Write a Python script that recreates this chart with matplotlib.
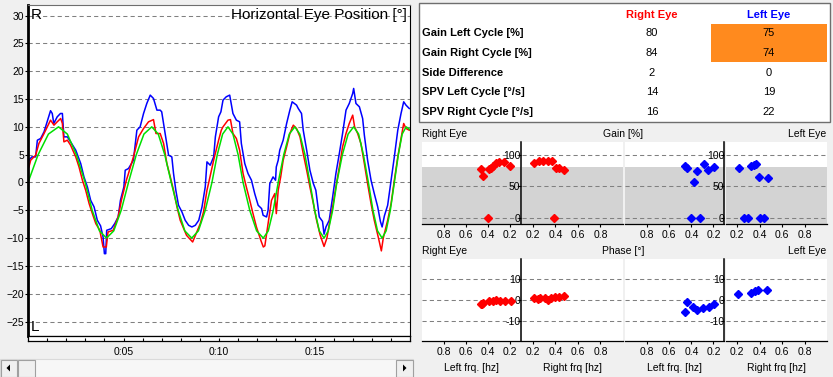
import matplotlib
matplotlib.use("Agg")

# import the matplotlib 2D plots and the patches for the table / scrollbar
import matplotlib.pyplot as plt
from matplotlib.patches import Rectangle, Polygon

# global constants
FIG_W: int = 833
FIG_H: int = 377
OUT_PNG_NAME: str = "out.png"

plt.rcParams["font.family"] = ["Liberation Sans", "DejaVu Sans"]

# ---------------------------------------------------------------------------
# horizontal eye position trace ( time in seconds, position in degrees )
# ---------------------------------------------------------------------------
green_t = [0, 0.53, 1.07, 1.6, 2.06, 2.53, 2.99, 3.36, 3.74, 4.11, 4.49, 4.88, 5.26,
           5.67, 6.07, 6.48, 6.82, 7.16, 7.5, 7.86, 8.21, 8.57, 8.92, 9.28, 9.63,
           9.91, 10.19, 10.47, 10.73, 11.0, 11.26, 11.61, 11.97, 12.32, 12.58, 12.84, 13.1,
           13.39, 13.68, 13.97, 14.23, 14.5, 14.76, 15.01, 15.25, 15.5, 15.72, 15.95, 16.17,
           16.46, 16.76, 17.05, 17.31, 17.56, 17.82, 18.06, 18.3, 18.54, 18.75, 18.97, 19.18,
           19.39, 19.59, 19.8, 20.0]
green_v = [0, 5, 8.7, 10, 8.7, 5, 0, -5, -8.7, -10, -8.7, -5, 0,
           5, 8.7, 10, 8.7, 5, 0, -5, -8.7, -10, -8.7, -5, 0,
           5, 8.7, 10, 8.7, 5, 0, -5, -8.7, -10, -8.7, -5, 0,
           5, 8.7, 10, 8.7, 5, 0, -5, -8.7, -10, -8.7, -5, 0,
           5, 8.7, 10, 8.7, 5, 0, -5, -8.7, -10, -8.7, -5, 0,
           5, 8.7, 10, 9.5]

red_t = [0.0, 0.05, 0.14, 0.4, 0.57, 0.84, 1.01, 1.18, 1.36, 1.53, 1.71, 1.8, 1.88, 2.06,
         2.23, 2.5, 2.67, 2.85, 3.02, 3.2, 3.37, 3.55, 3.76, 3.93, 4.1, 4.19, 4.46, 4.72,
         4.89, 5.15, 5.26, 5.52, 5.79, 6.05, 6.31, 6.57, 6.7, 6.92, 7.1, 7.27, 7.45, 7.62,
         7.8, 7.97, 8.3, 8.62, 9.02, 9.19, 9.37, 9.49, 9.72, 9.98, 10.12, 10.21, 10.47, 10.6,
         10.73, 10.91, 11.08, 11.26, 11.43, 11.61, 11.78, 11.96, 12.2, 12.32, 12.4, 12.57,
         12.75, 12.92, 13.0, 13.1, 13.23, 13.36, 13.54, 13.71, 13.89, 14.06, 14.24, 14.41,
         14.59, 14.76, 14.94, 15.11, 15.3, 15.5, 15.65, 15.8, 15.95, 16.12, 16.3, 16.47,
         16.65, 16.82, 17.0, 17.1, 17.26, 17.43, 17.61, 17.78, 17.96, 18.13, 18.35, 18.5,
         18.6, 18.83, 19.01, 19.18, 19.36, 19.53, 19.67, 19.79, 19.96]
red_v = [2.5, 2.8, 4.0, 4.9, 7.0, 8.8, 10.0, 11.2, 10.3, 10.9, 11.5, 10.6, 7.3, 7.6,
         6.7, 4.6, 2.8, 0.4, -1.4, -3.8, -5.6, -7.4, -8.6, -11.6, -11.6, -8.9, -8.6, -6.2,
         -3.2, 0.4, 1.6, 4.6, 8.2, 9.7, 10.9, 11.3, 8.8, 8.8, 7.0, 3.4, 1.0, -1.4,
         -4.4, -6.8, -9.5, -10.7, -7.4, -5.3, -1.4, 0.4, 4.0, 7.6, 9.4, 10.0, 11.2, 11.3,
         8.8, 7.9, 5.8, 1.6, -0.8, -3.2, -5.6, -8.0, -10.5, -11.6, -11.4, -7.4,
         -3.2, -2.0, -5.6, -1.4, 1.0, 4.0, 6.4, 8.8, 10.3, 9.7, 8.2, 5.2,
         2.2, -0.8, -3.8, -6.8, -9.5, -11.5, -10.0, -7.0, -4.4, -0.8, 2.8, 6.4,
         8.8, 10.6, 12.1, 10.0, 8.8, 7.0, 3.4, -0.2, -3.8, -6.8, -10.0, -12.3,
         -10.0, -6.8, -3.8, 0.4, 4.6, 7.9, 10.6, 9.7, 9.4]

blue_t = [0.0, 0.05, 0.2, 0.4, 0.49, 0.66, 0.84, 1.0, 1.18, 1.27, 1.35, 1.53, 1.7, 1.8,
          1.88, 2.06, 2.23, 2.5, 2.76, 2.93, 3.11, 3.28, 3.46, 3.63, 3.8, 3.93, 4.0, 4.07,
          4.12, 4.36, 4.54, 4.72, 4.84, 5.02, 5.09, 5.26, 5.52, 5.7, 5.87, 6.05, 6.22, 6.4,
          6.57, 6.75, 6.92, 7.0, 7.18, 7.36, 7.53, 7.62, 7.74, 7.88, 8.06, 8.23, 8.41, 8.58,
          8.76, 8.94, 9.11, 9.28, 9.37, 9.54, 9.72, 9.81, 9.98, 10.1, 10.21, 10.38, 10.56,
          10.73, 10.91, 11.08, 11.17, 11.35, 11.52, 11.7, 11.87, 12.05, 12.23, 12.31, 12.49,
          12.57, 12.66, 12.83, 12.96, 13.0, 13.1, 13.18, 13.36, 13.54, 13.71, 13.83, 14.06,
          14.15, 14.32, 14.41, 14.59, 14.76, 14.94, 15.07, 15.25, 15.42, 15.5, 15.6, 15.77,
          15.95, 16.12, 16.3, 16.47, 16.65, 16.82, 17.0, 17.05, 17.17, 17.35, 17.52, 17.61,
          17.78, 17.96, 18.13, 18.31, 18.45, 18.54, 18.66, 18.83, 19.01, 19.18, 19.36, 19.53,
          19.67, 19.79, 19.96]
blue_v = [3.4, 4.0, 4.6, 4.6, 7.6, 7.9, 9.1, 10.9, 12.9, 12.4, 10.6, 11.8, 12.4, 12.4,
          8.2, 8.2, 7.3, 5.8, 3.4, 1.0, -0.8, -3.2, -4.4, -6.8, -7.8, -9.8, -12.8, -12.8,
          -8.6, -8.3, -7.4, -6.2, -3.2, -0.8, 2.2, 2.5, 4.0, 9.4, 10.0, 12.4, 14.2, 15.7,
          15.1, 13.0, 13.0, 12.7, 8.8, 4.9, 4.6, 1.6, -1.4, -4.1, -5.3, -6.8, -7.7, -8.0,
          -7.7, -6.8, -4.4, -0.8, 3.7, 3.1, 4.6, 8.2, 11.8, 12.7, 14.8, 15.4, 15.7,
          12.4, 11.2, 10.9, 7.0, 3.4, 1.6, 0.4, -2.0, -4.1, -4.7, -5.9, -6.2,
          -5.0, -0.2, 1.0, 0.4, 2.8, 4.0, 5.8, 7.6, 10.6, 13.0, 14.5, 13.9,
          13.3, 12.4, 9.4, 5.8, 2.2, -0.2, -1.4, -6.2, -7.0, -9.3, -8.0, -6.8,
          -2.6, 1.6, 5.2, 8.8, 13.0, 14.2, 16.0, 16.9, 14.2, 13.6, 11.5, 8.5,
          4.0, 0.4, -2.0, -4.4, -7.0, -8.0, -6.0, -4.1, 0.4, 4.6, 9.4, 12.4,
          14.5, 13.9, 13.3]

time_ticks = [5, 10, 15]
time_tick_labels = ["0:05", "0:10", "0:15"]

# ---------------------------------------------------------------------------
# result table
# ---------------------------------------------------------------------------
row_labels = ["Gain Left Cycle [%]", "Gain Right Cycle [%]", "Side Difference",
              "SPV Left Cycle [°/s]", "SPV Right Cycle [°/s]"]
right_eye_values = [80, 84, 2, 14, 16]
left_eye_values = [75, 74, 0, 19, 22]

# ---------------------------------------------------------------------------
# gain / phase per frequency ( frequency in hz )
# ---------------------------------------------------------------------------
gain_re_left_frq = [0.461, 0.446, 0.40, 0.391, 0.369, 0.347, 0.323, 0.292, 0.246, 0.194]
gain_re_left_val = [78.0, 67.4, 0.0, 78.0, 79.6, 82.3, 87.6, 88.6, 88.6, 83.3]
gain_re_right_frq = [0.209, 0.253, 0.295, 0.333, 0.368, 0.392, 0.407, 0.436, 0.474]
gain_re_right_val = [88.1, 91.3, 91.3, 91.3, 91.3, 0.0, 79.6, 79.0, 76.4]
gain_le_left_frq = [0.46, 0.436, 0.405, 0.375, 0.351, 0.324, 0.285, 0.245, 0.194]
gain_le_left_val = [83.3, 79.6, 0.0, 56.8, 74.3, 0.0, 86.5, 75.9, 81.7]
gain_le_right_frq = [0.215, 0.259, 0.297, 0.327, 0.348, 0.365, 0.392, 0.407, 0.436, 0.472]
gain_le_right_val = [79.6, 0.0, 0.0, 83.3, 84.9, 86.5, 65.3, 0.0, 0.0, 64.2]
gain_normal_limit = 81

phase_re_left_frq = [0.461, 0.452, 0.44, 0.384, 0.347, 0.323, 0.283, 0.24, 0.19]
phase_re_left_val = [-1.9, -1.6, -1.3, -0.5, -0.3, 0.3, -0.5, -0.5, -0.5]
phase_re_right_frq = [0.209, 0.244, 0.268, 0.304, 0.333, 0.363, 0.40, 0.436, 0.474]
phase_re_right_val = [1.3, 0.5, 1.0, 1.0, 0.3, 1.0, 1.6, 1.6, 1.9]
phase_le_left_frq = [0.46, 0.442, 0.382, 0.351, 0.291, 0.242, 0.194]
phase_le_left_val = [-5.6, -0.8, -3.5, -4.5, -3.7, -3.2, -1.9]
phase_le_right_frq = [0.209, 0.327, 0.357, 0.386, 0.469]
phase_le_right_val = [2.9, 3.5, 4.3, 5.1, 5.1]

frq_ticks = [0.2, 0.4, 0.6, 0.8]

BG = "#F0F0F0"
GRID = dict(color="#808080", linestyle=(0, (4, 3)), linewidth=0.75)


# helper to place an axes using pixel coordinates ( top-left origin )
def px_axes(fig, x0, y0, x1, y1):
    return fig.add_axes([x0 / FIG_W, 1 - y1 / FIG_H, (x1 - x0) / FIG_W, (y1 - y0) / FIG_H])


# the big horizontal eye position chart
def eye_position_chart(fig):
    axes = px_axes(fig, 28, 5, 410, 336)

    axes.plot(blue_t, blue_v, color="#0000FF", linewidth=1.1)
    axes.plot(red_t, red_v, color="#FF0000", linewidth=1.1)
    axes.plot(green_t, green_v, color="#00E000", linewidth=1.1)

    axes.set_xlim(0, 20)
    axes.set_ylim(-27.6, 31.9)
    axes.set_yticks(range(-25, 31, 5))
    axes.set_xticks([])
    axes.yaxis.grid(True, **GRID)
    axes.set_axisbelow(True)
    axes.tick_params(axis="y", labelsize=7.5, length=2, width=0.8, pad=1)

    for name, spine in axes.spines.items():
        spine.set_linewidth(0.8)
        spine.set_color("black")
    axes.spines["left"].set_linewidth(2)
    axes.spines["top"].set_color("#6E6E6E")

    axes.text(0.993, 0.958, "Horizontal Eye Position [°]", transform=axes.transAxes,
              ha="right", va="baseline", fontsize=11)
    axes.text(0.007, 0.958, "R", transform=axes.transAxes, ha="left", va="baseline", fontsize=11)
    axes.text(0.007, 0.016, "L", transform=axes.transAxes, ha="left", va="baseline", fontsize=11)

    # the double line time strip under the chart
    strip = px_axes(fig, 28, 336, 410, 341)
    strip.set_xlim(0, 20)
    strip.set_yticks([])
    strip.set_xticks(time_ticks)
    strip.set_xticklabels(time_tick_labels)
    strip.set_xticks(range(1, 20), minor=True)
    strip.tick_params(axis="x", which="both", direction="in", length=2, width=0.8,
                      labelsize=7.5, pad=4.5)
    for spine in strip.spines.values():
        spine.set_linewidth(0.9)


# one of the small gain / phase scatter panels
def scatter_panel(fig, box, xs, ys, colour, ylim, yticks, inverted, show_y, gray, xlabel=None):
    axes = px_axes(fig, *box)
    if gray:
        axes.axhspan(ylim[0], gain_normal_limit, color="#D3D3D3", zorder=0, linewidth=0)
    axes.plot(xs, ys, linestyle="none", marker="D", markersize=4.2, color=colour, zorder=3)

    axes.set_xlim((1.0, 0.1) if inverted else (0.1, 1.0))
    axes.set_ylim(*ylim)
    axes.set_xticks(frq_ticks)
    axes.set_xticklabels([f"{t:.1f}" for t in frq_ticks])
    axes.set_yticks(yticks)
    axes.yaxis.grid(True, **GRID)
    axes.set_axisbelow(False)
    for line in axes.get_ygridlines():
        line.set_zorder(1)

    axes.tick_params(axis="x", labelsize=7.5, length=2.5, width=0.8, pad=2)
    axes.spines["top"].set_visible(False)
    axes.spines["left"].set_visible(False)
    axes.spines["bottom"].set_linewidth(0.9)

    if show_y:
        axes.tick_params(axis="y", left=False, labelleft=False, right=True, labelright=True,
                         direction="in", length=2, width=0.8, labelsize=7.5, pad=0)
        axes.set_yticklabels([str(t) for t in yticks])
        for label in axes.get_yticklabels():
            label.set_horizontalalignment("right")
        axes.spines["right"].set_linewidth(1.1)
    else:
        axes.tick_params(axis="y", left=False, right=False, labelleft=False)
        axes.spines["right"].set_visible(False)

    if xlabel:
        axes.set_xlabel(xlabel, fontsize=7.5, labelpad=4)
    return axes


def main():
    fig = plt.figure(figsize=(FIG_W / 100, FIG_H / 100), dpi=100, facecolor=BG)

    eye_position_chart(fig)

    # x positions ( in pixels ) of the four panel columns
    cols = [(421.7, 520.5), (521.5, 623), (625, 724.5), (726, 827)]
    gain_rows = (142, 224)
    phase_rows = (259, 341)

    gain_sets = [
        (gain_re_left_frq, gain_re_left_val, "#FF0000", True, True),
        (gain_re_right_frq, gain_re_right_val, "#FF0000", False, False),
        (gain_le_left_frq, gain_le_left_val, "#0000FF", True, True),
        (gain_le_right_frq, gain_le_right_val, "#0000FF", False, False),
    ]
    phase_sets = [
        (phase_re_left_frq, phase_re_left_val, "#FF0000", True, True, "Left frq. [hz]"),
        (phase_re_right_frq, phase_re_right_val, "#FF0000", False, False, "Right frq [hz]"),
        (phase_le_left_frq, phase_le_left_val, "#0000FF", True, True, "Left frq. [hz]"),
        (phase_le_right_frq, phase_le_right_val, "#0000FF", False, False, "Right frq [hz]"),
    ]

    for (x0, x1), (xs, ys, colour, inv, show_y) in zip(cols, gain_sets):
        scatter_panel(fig, (x0, gain_rows[0], x1, gain_rows[1]), xs, ys, colour,
                      (-10, 121), [0, 50, 100], inv, show_y, True)

    for (x0, x1), (xs, ys, colour, inv, show_y, xlabel) in zip(cols, phase_sets):
        scatter_panel(fig, (x0, phase_rows[0], x1, phase_rows[1]), xs, ys, colour,
                      (-19.6, 19.8), [-10, 0, 10], inv, show_y, False, xlabel)

    # overlay in pixel coordinates for the table, headers and scrollbar
    over = fig.add_axes([0, 0, 1, 1])
    over.set_xlim(0, FIG_W)
    over.set_ylim(FIG_H, 0)
    over.axis("off")

    # result table
    over.add_patch(Rectangle((419, 3), 411, 119, facecolor="white", edgecolor="#6E6E6E", linewidth=1))
    over.add_patch(Rectangle((711, 24), 116, 38.3, facecolor="#FF8A1E", edgecolor="none"))
    over.text(652, 15, "Right Eye", color="#FF0000", fontsize=8, fontweight="bold", ha="center", va="center")
    over.text(769, 15, "Left Eye", color="#0000FF", fontsize=8, fontweight="bold", ha="center", va="center")
    row_y = [33.3, 53.3, 72.7, 91.7, 111.7]
    for y, label, rv, lv in zip(row_y, row_labels, right_eye_values, left_eye_values):
        over.text(422, y, label, fontsize=8, fontweight="bold", ha="left", va="center")
        over.text(652, y, str(rv), fontsize=8, ha="center", va="center")
        over.text(769, y, str(lv), fontsize=8, ha="center", va="center")

    # panel headers
    for base, title in [(137, "Gain [%]"), (254, "Phase [°]")]:
        over.text(422, base, "Right Eye", fontsize=7.5, ha="left", va="baseline")
        over.text(623.5, base, title, fontsize=7.5, ha="center", va="baseline")
        over.text(826, base, "Left Eye", fontsize=7.5, ha="right", va="baseline")

    # scrollbar under the chart
    over.add_patch(Rectangle((0, 359), 413, 18, facecolor="#F7F7F7", edgecolor="#DADADA", linewidth=0.8))
    for bx in (0.5, 18.3, 396):
        over.add_patch(Rectangle((bx, 359.5), 17, 17, facecolor=BG, edgecolor="#A0A0A0", linewidth=0.8))
    over.add_patch(Polygon([(6.5, 368), (10, 364.5), (10, 371.5)], closed=True, facecolor="black"))
    over.add_patch(Polygon([(406.5, 368), (403, 364.5), (403, 371.5)], closed=True, facecolor="black"))

    fig.savefig(OUT_PNG_NAME, dpi=100, facecolor=BG)


if __name__ == "__main__":
    main()
